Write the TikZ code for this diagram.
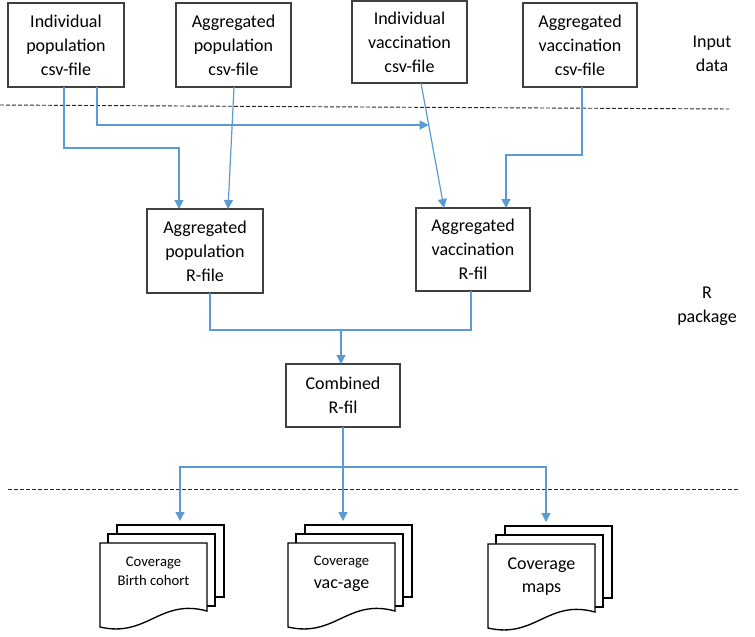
\documentclass[tikz,border=0pt]{standalone}
\usepackage{fontspec}
\setmainfont{Carlito}
\usetikzlibrary{arrows.meta,calc}
\definecolor{conblue}{HTML}{5B9BD5}
\definecolor{boxgray}{HTML}{404040}
\tikzset{
 box/.style={draw=boxgray, line width=1pt, fill=white, align=center, inner sep=0pt, outer sep=0pt, font=\fontsize{13.5}{18}\selectfont},
 line/.style={draw=conblue, line width=0.9pt},
 arr/.style={line, -{Triangle[width=6.75pt,length=6.75pt]}},
 divider/.style={draw=black!85, line width=0.7pt, dash pattern=on 3pt off 1.5pt},
 sheet/.style={draw=black, line width=1pt, fill=white, minimum width=80.25pt, minimum height=54pt, inner sep=0pt, outer sep=0pt},
 sheetline/.style={draw=black, line width=1pt, fill=white},
 side/.style={align=center, font=\fontsize{13.5}{18}\selectfont},
 doctext/.style={align=center, inner sep=0pt},
}
\newcommand\mdoc[6]{%
 \begin{scope}[shift={(#2,#3)}]
  \node[sheet, anchor=north west] (#1b) at (0,0) {};
  \node[sheet, anchor=north west] (#1m) at (-9,9) {};
  \filldraw[sheetline] (-17,18) -- (90,18) -- (90,86) .. controls (43,73) and (30,113) .. (-17,102) -- cycle;
  \node[doctext, font=#5] (#1t) at (36.5,#4) {#6};
 \end{scope}}
\begin{document}
\begin{tikzpicture}[x=0.75pt,y=-0.75pt]
\useasboundingbox (0,0) rectangle (755,636);

% dividers
\draw[divider] (0,105) -- (729,109);
\draw[divider] (8,489) -- (738,489);

% input boxes
\node[box, minimum width=87pt, minimum height=63pt] (b1) at (66,45) {Individual\\population\\csv-file};
\node[box, minimum width=86.25pt, minimum height=63pt] (b2) at (233.5,45) {Aggregated\\population\\csv-file};
\node[box, minimum width=86.25pt, minimum height=61.5pt] (b3) at (409.5,42) {Individual\\vaccination\\csv-file};
\node[box, minimum width=85.5pt, minimum height=63pt] (b4) at (580,45) {Aggregated\\vaccination\\csv-file};

% R files
\node[box, minimum width=87pt, minimum height=63pt] (ap) at (205,251) {Aggregated\\population\\R-file};
\node[box, minimum width=85.5pt, minimum height=62.25pt] (avr) at (473,249.5) {Aggregated\\vaccination\\R-fil};
\node[box, minimum width=85.5pt, minimum height=47.25pt] (comb) at (343,395.5) {Combined\\R-fil};

% side labels
\node[side] (lin) at (712,54) {Input\\data};
\node[side] (lr) at (707,306) {R\\package};

% documents
\mdoc{d1}{117}{525}{46.5}{\fontsize{11}{14.25}\selectfont}{Coverage\\Birth cohort}
\mdoc{d2}{305}{525}{49}{\fontsize{13.5}{16}\selectfont}{{\fontsize{11}{14}\selectfont Coverage}\\[1pt]vac-age}
\mdoc{d3}{505}{526}{50.5}{\fontsize{13.5}{17.25}\selectfont}{Coverage\\maps}

% connectors top
\draw[arr] ([xshift=8.6pt]b3.south) -- coordinate[pos=0.336] (m) ([xshift=-21.75pt]avr.north);
\draw[arr] ([xshift=-1.5pt]b1.south) |- (179,148) -- ([xshift=-19.5pt]ap.north);
\draw[arr] ([xshift=23.25pt]b1.south) |- (m);
\draw[arr] ([xshift=0.375pt]b2.south) -- ([xshift=17.25pt]ap.north);
\draw[arr] ([xshift=1.5pt]b4.south) |- (506,155) -- ([xshift=24.75pt]avr.north);

% merge
\draw[line] ([xshift=3.75pt]ap.south) -- ++(0,37) -| ([xshift=-1.5pt]avr.south);
\coordinate (jn) at (341,330);
\draw[arr] (jn) -- ([xshift=-1.5pt]comb.north);

% distribution
\draw[line] (comb.south) -- ++(0,40) coordinate (hub);
\draw[arr, shorten >=3pt] (hub) -| ([xshift=7.125pt]d1b.north);
\draw[arr, shorten >=3pt] (hub) -- ([xshift=-11.625pt]d2b.north);
\draw[arr, shorten >=3pt] (hub) -| ([xshift=-9.375pt]d3b.north);
\end{tikzpicture}
\end{document}
